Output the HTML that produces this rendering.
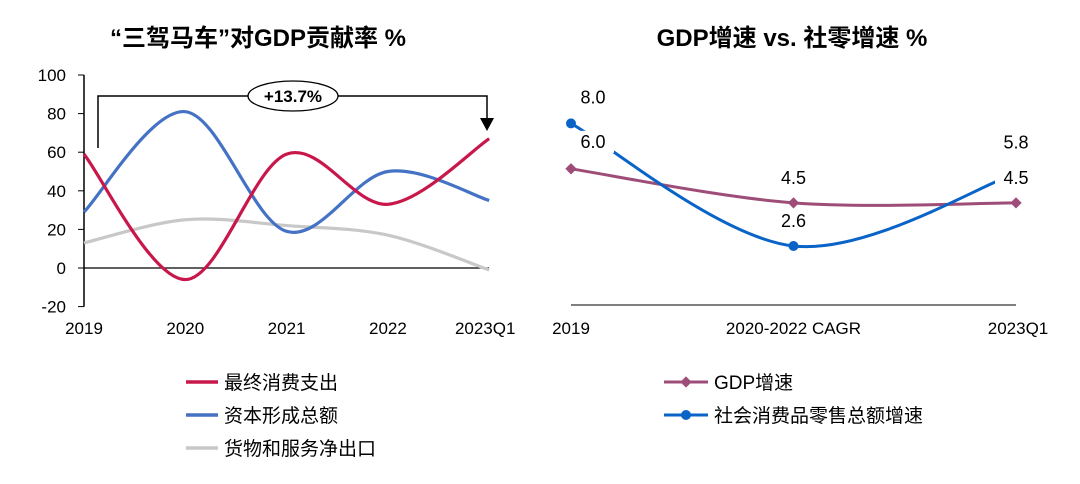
<!DOCTYPE html>
<html><head><meta charset="utf-8"><style>
body{margin:0;background:#fff;}
svg text{font-family:"Liberation Sans","Noto Sans CJK SC",sans-serif;}
</style></head><body>
<svg width="1080" height="479" viewBox="0 0 1080 479">
<g id="left"></g>
<g id="right"></g>
</svg>
<script>
const leftCats=["2019","2020","2021","2022","2023Q1"];
const consumption=[59,-6,59,33,67];
const capital=[29,81,19,50,35];
const netExports=[13,25,22,17,-1];
const leftTicks=[100,80,60,40,20,0,-20];
const rightCats=["2019","2020-2022 CAGR","2023Q1"];
const gdpGrowth=[6.0,4.5,4.5];
const retailGrowth=[8.0,2.6,5.8];
const NS="http://www.w3.org/2000/svg";
function mk(parent,tag,attrs,text){const e=document.createElementNS(NS,tag);for(const k in attrs)e.setAttribute(k,attrs[k]);if(text!==undefined)e.textContent=text;parent.appendChild(e);return e;}
function spline(pts){let d=`M${pts[0][0]},${pts[0][1]}`;for(let i=0;i<pts.length-1;i++){const p0=pts[i-1]||pts[i],p1=pts[i],p2=pts[i+1],p3=pts[i+2]||p2;const t=6;d+=` C${p1[0]+(p2[0]-p0[0])/t},${p1[1]+(p2[1]-p0[1])/t} ${p2[0]-(p3[0]-p1[0])/t},${p2[1]-(p3[1]-p1[1])/t} ${p2[0]},${p2[1]}`;}return d;}
// left
const L=document.getElementById('left');
const lx=i=>84+i*101.3, ly=v=>268-v*1.93;
let t=mk(L,'text',{x:258,y:46,'text-anchor':'middle','font-size':24,'font-weight':'bold',fill:'#000'},'“三驾马车”对GDP贡献率 %');

let a=mk(L,'line',{x1:84,y1:ly(100),x2:84,y2:ly(-20),stroke:'#000','stroke-width':1.5});

leftTicks.forEach(v=>{mk(L,'line',{x1:78,y1:ly(v),x2:84,y2:ly(v),stroke:'#000'});
const tt=mk(L,'text',{x:66,y:ly(v)+6,'text-anchor':'end','font-size':17,fill:'#000'},v);
});
let z=mk(L,'line',{x1:84,y1:ly(0),x2:489,y2:ly(0),stroke:'#000','stroke-width':1.2});

leftCats.forEach((c,i)=>{const tt=mk(L,'text',{x:lx(i)+(i==4?-4:0),y:334,'text-anchor':'middle','font-size':17,fill:'#000'},c);
});
[[netExports,'#c8c8c8','net-exports-line'],[capital,'#4472c4','capital-formation-line'],[consumption,'#c8174a','consumption-line']].forEach(([s,col,n])=>{
const p=mk(L,'path',{d:spline(s.map((v,i)=>[lx(i),ly(v)])),fill:'none',stroke:col,'stroke-width':3.2});
});
let br=mk(L,'path',{d:`M98,148 V96 H487 V120`,fill:'none',stroke:'#000','stroke-width':1.5});

mk(L,'polygon',{points:'480,118 494,118 487,131',fill:'#000'});
let el=mk(L,'ellipse',{cx:293,cy:96,rx:45,ry:15,fill:'#fff',stroke:'#000','stroke-width':1.3});

mk(L,'text',{x:293,y:102,'text-anchor':'middle','font-size':17,'font-weight':'bold'},'+13.7%');
[['最终消费支出','#c8174a'],['资本形成总额','#4472c4'],['货物和服务净出口','#c8c8c8']].forEach(([n,c],i)=>{const y=382+i*33;
const g=mk(L,'g',{});
mk(g,'line',{x1:186,y1:y,x2:218,y2:y,stroke:c,'stroke-width':3.5});
mk(g,'text',{x:224,y:y+7,'font-size':19,fill:'#000'},n);});
// right
const R=document.getElementById('right');
const rx=i=>571+i*222.5, ry=v=>305-v*22.7;
t=mk(R,'text',{x:792,y:46,'text-anchor':'middle','font-size':24,'font-weight':'bold',fill:'#000'},'GDP增速 vs. 社零增速 %');

a=mk(R,'line',{x1:571,y1:305,x2:1016,y2:305,stroke:'#555','stroke-width':1.5});

rightCats.forEach((c,i)=>{const tt=mk(R,'text',{x:rx(i)+(i==2?2:0),y:334,'text-anchor':'middle','font-size':17,fill:'#000'},c);
});
let p=mk(R,'path',{d:spline(gdpGrowth.map((v,i)=>[rx(i),ry(v)])),fill:'none',stroke:'#9e4d78','stroke-width':3});

gdpGrowth.forEach((v,i)=>{const m=mk(R,'rect',{x:rx(i)-4,y:ry(v)-4,width:8,height:8,fill:'#9e4d78',transform:`rotate(45 ${rx(i)} ${ry(v)})`});
});
p=mk(R,'path',{d:spline(retailGrowth.map((v,i)=>[rx(i),ry(v)])),fill:'none',stroke:'#0a64c8','stroke-width':3});

retailGrowth.forEach((v,i)=>{if(i==2)return;const m=mk(R,'circle',{cx:rx(i),cy:ry(v),r:5,fill:'#0a64c8'});
});
function lab(x,y,s){mk(R,'rect',{x:x-21,y:y-17,width:42,height:22,fill:'#fff'});const tt=mk(R,'text',{x:x,y:y,'text-anchor':'middle','font-size':18,fill:'#000'},s);
}
lab(rx(0)+22,ry(retailGrowth[0])-20,retailGrowth[0].toFixed(1));
lab(rx(0)+22,ry(gdpGrowth[0])-21,gdpGrowth[0].toFixed(1));
lab(rx(1),ry(gdpGrowth[1])-19,gdpGrowth[1].toFixed(1));
lab(rx(1),ry(retailGrowth[1])-19,retailGrowth[1].toFixed(1));
lab(rx(2),ry(retailGrowth[2])-25,retailGrowth[2].toFixed(1));
lab(rx(2),ry(gdpGrowth[2])-19,gdpGrowth[2].toFixed(1));
[['GDP增速','#9e4d78','d'],['社会消费品零售总额增速','#0a64c8','c']].forEach(([n,c,k],i)=>{const y=382+i*33;
const g=mk(R,'g',{});
mk(g,'line',{x1:664,y1:y,x2:708,y2:y,stroke:c,'stroke-width':3});
if(k=='d')mk(g,'rect',{x:682,y:y-4,width:8,height:8,fill:c,transform:`rotate(45 686 ${y})`});else mk(g,'circle',{cx:686,cy:y,r:5,fill:c});
mk(g,'text',{x:714,y:y+7,'font-size':19,fill:'#000'},n);});
</script>
</body></html>
